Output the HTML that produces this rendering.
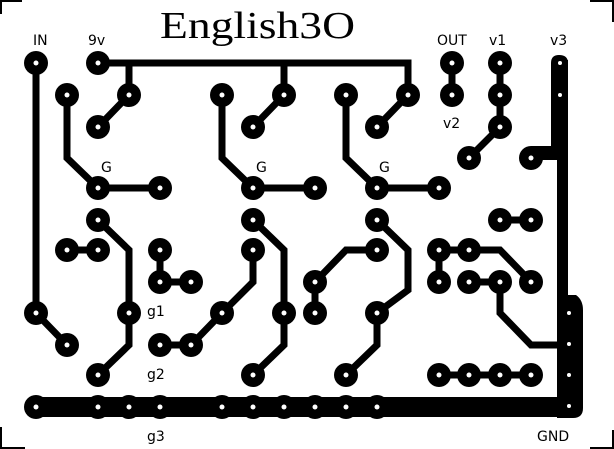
<!DOCTYPE html>
<html><head><style>body{margin:0;background:#fff}svg{display:block}</style></head><body>
<svg width="614" height="449" viewBox="0 0 614 449" xmlns="http://www.w3.org/2000/svg">
<g fill="none" stroke="#000" stroke-width="7" stroke-linejoin="miter">
<path d="M36 63V313L67 345"/>
<path d="M98 63H408V95"/><path d="M129 63V95L98 127"/><path d="M284 63V95L253 127"/><path d="M408 95L377 127"/>
<path d="M67 95V158L98 188H160"/><path d="M222 95V158L253 188H315"/><path d="M346 95V158L377 188H439"/>
<path d="M98 220L129 250V345L98 375"/><path d="M67 250H98"/><path d="M160 250V282H191"/>
<path d="M160 345H191L222 313L253 282V250"/>
<path d="M253 220L284 250V345L253 375"/>
<path d="M377 220L408 250V290L377 313V345L346 375"/>
<path d="M315 313V282L346 250H377"/>
<path d="M452 63V95"/><path d="M500 63V127L469 158"/>
<path d="M500 220H531"/>
<path d="M439 282V250H500L531 282"/><path d="M469 282H500V313L531 345H560"/>
<path d="M439 375H531"/>
</g>
<rect x="36" y="397" width="540" height="20" rx="0"/>
<path d="M551 63Q551 55 559 55Q568 55 568 63V160H531V146H551Z"/>
<rect x="557" y="60" width="11" height="300"/>
<path d="M557 295H576Q583 300 583 310V408Q583 418 573 418H557Z"/>
<g fill="#000">
<circle cx="36" cy="63" r="12"/><circle cx="98" cy="63" r="12"/>
<circle cx="67" cy="95" r="12"/><circle cx="129" cy="95" r="12"/><circle cx="98" cy="127" r="12"/>
<circle cx="222" cy="95" r="12"/><circle cx="284" cy="95" r="12"/><circle cx="253" cy="127" r="12"/>
<circle cx="346" cy="95" r="12"/><circle cx="408" cy="95" r="12"/><circle cx="377" cy="127" r="12"/>
<circle cx="98" cy="188" r="12"/><circle cx="160" cy="188" r="12"/>
<circle cx="253" cy="188" r="12"/><circle cx="315" cy="188" r="12"/>
<circle cx="377" cy="188" r="12"/><circle cx="439" cy="188" r="12"/>
<circle cx="98" cy="220" r="12"/><circle cx="253" cy="220" r="12"/><circle cx="377" cy="220" r="12"/>
<circle cx="67" cy="250" r="12"/><circle cx="98" cy="250" r="12"/><circle cx="160" cy="250" r="12"/>
<circle cx="160" cy="282" r="12"/><circle cx="191" cy="282" r="12"/>
<circle cx="36" cy="313" r="12"/><circle cx="67" cy="345" r="12"/><circle cx="129" cy="313" r="12"/>
<circle cx="98" cy="375" r="12"/><circle cx="160" cy="345" r="12"/><circle cx="191" cy="345" r="12"/>
<circle cx="222" cy="313" r="12"/><circle cx="253" cy="250" r="12"/><circle cx="284" cy="313" r="12"/>
<circle cx="253" cy="375" r="12"/><circle cx="315" cy="282" r="12"/><circle cx="315" cy="313" r="12"/>
<circle cx="377" cy="250" r="12"/><circle cx="377" cy="313" r="12"/><circle cx="346" cy="375" r="12"/>
<circle cx="452" cy="63" r="12"/><circle cx="452" cy="95" r="12"/>
<circle cx="500" cy="63" r="12"/><circle cx="500" cy="95" r="12"/><circle cx="500" cy="127" r="12"/>
<circle cx="469" cy="158" r="12"/><circle cx="531" cy="158" r="12"/>
<circle cx="500" cy="220" r="12"/><circle cx="531" cy="220" r="12"/>
<circle cx="439" cy="250" r="12"/><circle cx="469" cy="250" r="12"/>
<circle cx="439" cy="282" r="12"/><circle cx="469" cy="282" r="12"/><circle cx="500" cy="282" r="12"/><circle cx="531" cy="282" r="12"/>
<circle cx="439" cy="375" r="12"/><circle cx="469" cy="375" r="12"/><circle cx="500" cy="375" r="12"/><circle cx="531" cy="375" r="12"/>
<circle cx="36" cy="407" r="12"/><circle cx="98" cy="407" r="12"/><circle cx="129" cy="407" r="12"/><circle cx="160" cy="407" r="12"/>
<circle cx="222" cy="407" r="12"/><circle cx="253" cy="407" r="12"/><circle cx="284" cy="407" r="12"/><circle cx="315" cy="407" r="12"/>
<circle cx="346" cy="407" r="12"/><circle cx="377" cy="407" r="12"/>
</g>
<g fill="#fff">
<circle cx="36" cy="63" r="2.5"/><circle cx="98" cy="63" r="2.5"/>
<circle cx="67" cy="95" r="2.5"/><circle cx="129" cy="95" r="2.5"/><circle cx="98" cy="127" r="2.5"/>
<circle cx="222" cy="95" r="2.5"/><circle cx="284" cy="95" r="2.5"/><circle cx="253" cy="127" r="2.5"/>
<circle cx="346" cy="95" r="2.5"/><circle cx="408" cy="95" r="2.5"/><circle cx="377" cy="127" r="2.5"/>
<circle cx="98" cy="188" r="2.5"/><circle cx="160" cy="188" r="2.5"/>
<circle cx="253" cy="188" r="2.5"/><circle cx="315" cy="188" r="2.5"/>
<circle cx="377" cy="188" r="2.5"/><circle cx="439" cy="188" r="2.5"/>
<circle cx="98" cy="220" r="2.5"/><circle cx="253" cy="220" r="2.5"/><circle cx="377" cy="220" r="2.5"/>
<circle cx="67" cy="250" r="2.5"/><circle cx="98" cy="250" r="2.5"/><circle cx="160" cy="250" r="2.5"/>
<circle cx="160" cy="282" r="2.5"/><circle cx="191" cy="282" r="2.5"/>
<circle cx="36" cy="313" r="2.5"/><circle cx="67" cy="345" r="2.5"/><circle cx="129" cy="313" r="2.5"/>
<circle cx="98" cy="375" r="2.5"/><circle cx="160" cy="345" r="2.5"/><circle cx="191" cy="345" r="2.5"/>
<circle cx="222" cy="313" r="2.5"/><circle cx="253" cy="250" r="2.5"/><circle cx="284" cy="313" r="2.5"/>
<circle cx="253" cy="375" r="2.5"/><circle cx="315" cy="282" r="2.5"/><circle cx="315" cy="313" r="2.5"/>
<circle cx="377" cy="250" r="2.5"/><circle cx="377" cy="313" r="2.5"/><circle cx="346" cy="375" r="2.5"/>
<circle cx="452" cy="63" r="2.5"/><circle cx="452" cy="95" r="2.5"/>
<circle cx="500" cy="63" r="2.5"/><circle cx="500" cy="95" r="2.5"/><circle cx="500" cy="127" r="2.5"/>
<circle cx="469" cy="158" r="2.5"/><circle cx="531" cy="158" r="2.5"/>
<circle cx="500" cy="220" r="2.5"/><circle cx="531" cy="220" r="2.5"/>
<circle cx="439" cy="250" r="2.5"/><circle cx="469" cy="250" r="2.5"/>
<circle cx="439" cy="282" r="2.5"/><circle cx="469" cy="282" r="2.5"/><circle cx="500" cy="282" r="2.5"/><circle cx="531" cy="282" r="2.5"/>
<circle cx="439" cy="375" r="2.5"/><circle cx="469" cy="375" r="2.5"/><circle cx="500" cy="375" r="2.5"/><circle cx="531" cy="375" r="2.5"/>
<circle cx="36" cy="407" r="2.5"/><circle cx="98" cy="407" r="2.5"/><circle cx="129" cy="407" r="2.5"/><circle cx="160" cy="407" r="2.5"/>
<circle cx="222" cy="407" r="2.5"/><circle cx="253" cy="407" r="2.5"/><circle cx="284" cy="407" r="2.5"/><circle cx="315" cy="407" r="2.5"/>
<circle cx="346" cy="407" r="2.5"/><circle cx="377" cy="407" r="2.5"/>
<circle cx="560" cy="63" r="2"/><circle cx="560" cy="95" r="2"/>
<circle cx="569" cy="313" r="2"/><circle cx="569" cy="344" r="2"/><circle cx="569" cy="375" r="2"/><circle cx="569" cy="406" r="2"/>
</g>
<g font-family="DejaVu Sans, sans-serif" font-size="14" fill="#000">
<text x="33" y="45">IN</text><text x="88" y="45">9v</text>
<text x="101" y="172">G</text><text x="256" y="172">G</text><text x="379" y="172">G</text>
<text x="437" y="45">OUT</text><text x="489" y="45">v1</text><text x="550" y="45">v3</text>
<text x="443" y="128">v2</text>
<text x="147" y="316">g1</text><text x="147" y="379">g2</text><text x="147" y="441">g3</text>
<text x="537" y="441">GND</text>
</g>
<text x="160" y="38" font-family="Liberation Serif, serif" font-size="38" fill="#000" textLength="195" lengthAdjust="spacingAndGlyphs">English3O</text>
<g fill="none" stroke="#000" stroke-width="2">
<path d="M1 14V1H22"/><path d="M590 1H613V22"/><path d="M1 427V448H25"/><path d="M590 448H613V430"/>
</g>
</svg>
</body></html>
